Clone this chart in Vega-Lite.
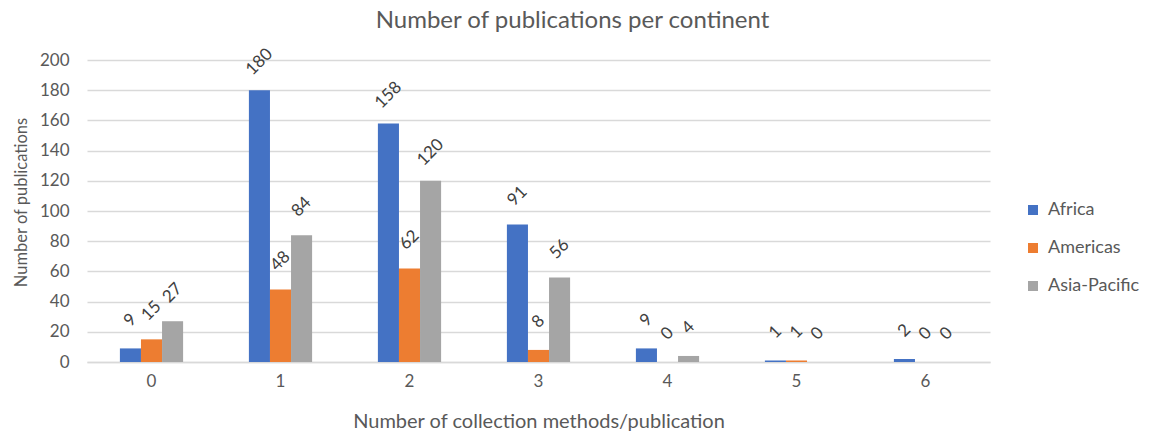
{
  "$schema": "https://vega.github.io/schema/vega-lite/v6.json",
  "width": 903,
  "height": 302,
  "autosize": {"type": "none"},
  "padding": {"left": 87, "top": 60, "right": 167, "bottom": 72},
  "background": "white",
  "title": {
    "text": "Number of publications per continent",
    "fontSize": 24,
    "font": "Lato",
    "fontWeight": "normal",
    "color": "#595959",
    "anchor": "middle",
    "dx": 34,
    "offset": 12
  },
  "config": {
    "font": "Lato",
    "view": {"stroke": null}
  },
  "data": {
    "values": [
      {"methods": "0", "continent": "Africa", "count": 9},
      {"methods": "0", "continent": "Americas", "count": 15},
      {"methods": "0", "continent": "Asia-Pacific", "count": 27},
      {"methods": "1", "continent": "Africa", "count": 180},
      {"methods": "1", "continent": "Americas", "count": 48},
      {"methods": "1", "continent": "Asia-Pacific", "count": 84},
      {"methods": "2", "continent": "Africa", "count": 158},
      {"methods": "2", "continent": "Americas", "count": 62},
      {"methods": "2", "continent": "Asia-Pacific", "count": 120},
      {"methods": "3", "continent": "Africa", "count": 91},
      {"methods": "3", "continent": "Americas", "count": 8},
      {"methods": "3", "continent": "Asia-Pacific", "count": 56},
      {"methods": "4", "continent": "Africa", "count": 9},
      {"methods": "4", "continent": "Americas", "count": 0},
      {"methods": "4", "continent": "Asia-Pacific", "count": 4},
      {"methods": "5", "continent": "Africa", "count": 1},
      {"methods": "5", "continent": "Americas", "count": 1},
      {"methods": "5", "continent": "Asia-Pacific", "count": 0},
      {"methods": "6", "continent": "Africa", "count": 2},
      {"methods": "6", "continent": "Americas", "count": 0},
      {"methods": "6", "continent": "Asia-Pacific", "count": 0}
    ]
  },
  "encoding": {
    "x": {
      "field": "methods",
      "type": "nominal",
      "sort": ["0", "1", "2", "3", "4", "5", "6"],
      "scale": {"paddingInner": 0.51, "paddingOuter": 0.255},
      "axis": {
        "title": "Number of collection methods/publication",
        "titleFont": "Lato",
        "titleFontSize": 20,
        "titleFontWeight": "normal",
        "titleColor": "#595959",
        "titlePadding": 22,
        "labelAngle": 0,
        "labelFontSize": 17,
        "labelColor": "#595959",
        "labelPadding": 11,
        "ticks": false,
        "domainColor": "#d9d9d9",
        "domainWidth": 1.5
      }
    },
    "xOffset": {"field": "continent", "type": "nominal", "scale": {"paddingInner": 0, "paddingOuter": 0}},
    "y": {
      "field": "count",
      "type": "quantitative",
      "scale": {"domain": [0, 200]},
      "axis": {
        "title": "Number of publications",
        "titleFont": "Lato",
        "titleFontSize": 16.5,
        "titleFontWeight": "normal",
        "titleColor": "#595959",
        "titlePadding": 10,
        "titleY": 142,
        "values": [0, 20, 40, 60, 80, 100, 120, 140, 160, 180, 200],
        "labelFontSize": 17,
        "labelColor": "#595959",
        "labelPadding": 18,
        "ticks": false,
        "domain": false,
        "grid": true,
        "gridColor": "#d9d9d9",
        "gridWidth": 1.5
      }
    }
  },
  "layer": [
    {
      "mark": {"type": "bar"},
      "encoding": {
        "color": {
          "field": "continent",
          "type": "nominal",
          "scale": {
            "domain": ["Africa", "Americas", "Asia-Pacific"],
            "range": ["#4472C4", "#ED7D31", "#A5A5A5"]
          },
          "legend": {
            "title": null,
            "orient": "none",
            "legendX": 937,
            "legendY": 141,
            "symbolType": "square",
            "symbolSize": 100,
            "symbolStrokeWidth": 0,
            "labelFontSize": 18,
            "labelColor": "#595959",
            "labelOffset": 6,
            "rowPadding": 20
          }
        }
      }
    },
    {
      "mark": {
        "type": "text",
        "angle": -45,
        "align": "center",
        "baseline": "middle",
        "dx": 20,
        "dy": -20,
        "fontSize": 17,
        "color": "#404040"
      },
      "encoding": {
        "text": {"field": "count", "type": "quantitative"}
      }
    }
  ]
}
